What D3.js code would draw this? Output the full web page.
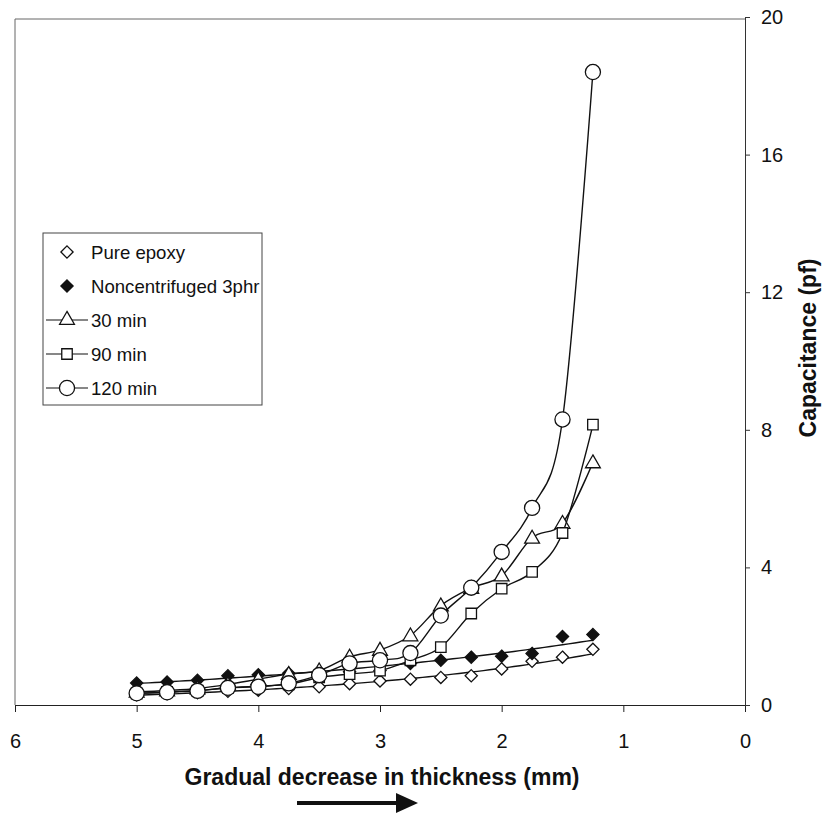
<!DOCTYPE html>
<html>
<head>
<meta charset="utf-8">
<script src="https://cdn.jsdelivr.net/npm/d3@7"></script>
<style>
body { margin: 0; background: #fff; }
text { font-family: "Liberation Sans", Arial, sans-serif; }
</style>
</head>
<body>
<div id="chart"></div>
<script>
// Thickness values (mm)
var thickness = [5, 4.75, 4.5, 4.25, 4, 3.75, 3.5, 3.25, 3, 2.75, 2.5, 2.25, 2, 1.75, 1.5, 1.25];

// Capacitance (pf) per series
var pureEpoxy = [0.3, 0.33, 0.36, 0.4, 0.43, 0.48, 0.53, 0.62, 0.7, 0.75, 0.8, 0.85, 1.05, 1.27, 1.39, 1.62];
var nonCentrifuged = [0.64, 0.67, 0.72, 0.85, 0.88, 0.92, 0.95, 0.97, 1.0, 1.21, 1.3, 1.39, 1.42, 1.5, 1.99, 2.05];
var min30 = [0.38, 0.42, 0.48, 0.6, 0.75, 0.9, 1.0, 1.4, 1.6, 2.02, 2.89, 3.4, 3.76, 4.86, 5.29, 7.05];
var min90 = [0.33, 0.38, 0.42, 0.5, 0.55, 0.6, 0.8, 0.9, 1.0, 1.3, 1.68, 2.66, 3.38, 3.87, 5.0, 8.15];
var min120 = [0.34, 0.37, 0.41, 0.5, 0.53, 0.63, 0.87, 1.21, 1.3, 1.51, 2.6, 3.41, 4.45, 5.73, 8.3, 18.4];

var xTicks = [6, 5, 4, 3, 2, 1, 0];
var yTicks = [0, 4, 8, 12, 16, 20];

var legendNames = ["Pure epoxy", "Noncentrifuged 3phr", "30 min", "90 min", "120 min"];

var w = 827, h = 814;
var plotLeft = 15, plotRight = 745, plotTop = 17, plotBottom = 705;

var svg = d3.select("#chart")
            .append("svg")
            .attr("width", w)
            .attr("height", h);

var x = d3.scaleLinear().domain([6, 0]).range([plotLeft, plotRight]);
var y = d3.scaleLinear().domain([0, 20]).range([plotBottom, plotTop]);

// frame (left and top sides, thin grey)
svg.append("path")
    .attr("d", "M" + plotLeft + "," + plotBottom + "V" + (plotTop + 2) + "H" + plotRight)
    .attr("fill", "none")
    .attr("stroke", "#666")
    .attr("stroke-width", 1);

// x axis
var xAxis = svg.append("g")
    .attr("transform", "translate(0," + plotBottom + ")")
    .call(d3.axisBottom(x).tickValues(xTicks).tickSize(7).tickSizeOuter(0).tickPadding(22).tickFormat(d3.format("d")));
xAxis.selectAll("text").attr("font-size", 20).attr("fill", "#111");
xAxis.selectAll("line, path").attr("stroke", "#222");

// y axis on the right
var yAxis = svg.append("g")
    .attr("transform", "translate(" + plotRight + ",0)")
    .call(d3.axisRight(y).tickValues(yTicks).tickSize(5).tickSizeOuter(0).tickPadding(11));
yAxis.selectAll("text").attr("font-size", 20).attr("fill", "#111");
yAxis.selectAll("line, path").attr("stroke", "#333");

// axis titles
svg.append("text")
    .attr("x", 382)
    .attr("y", 785)
    .attr("text-anchor", "middle")
    .attr("font-size", 23)
    .attr("font-weight", "bold")
    .attr("fill", "#111")
    .text("Gradual decrease in thickness (mm)");

svg.append("text")
    .attr("transform", "translate(816,348) rotate(-90)")
    .attr("text-anchor", "middle")
    .attr("font-size", 23)
    .attr("font-weight", "bold")
    .attr("fill", "#111")
    .text("Capacitance (pf)");

// arrow under the x title
svg.append("line")
    .attr("x1", 297).attr("y1", 803)
    .attr("x2", 398).attr("y2", 803)
    .attr("stroke", "#111")
    .attr("stroke-width", 4);
svg.append("path")
    .attr("d", "M396,793L418,803L396,813Z")
    .attr("fill", "#111");

// marker shapes
var symDiamond = d3.symbol().type(d3.symbolDiamond2).size(95);
var symTriangle = d3.symbol().type(d3.symbolTriangle).size(95);
var symSquare = d3.symbol().type(d3.symbolSquare).size(110);
var symCircle = d3.symbol().type(d3.symbolCircle).size(180);

function pairs(vals) {
    return thickness.map(function(t, i) { return [t, vals[i]]; });
}

// exponential trend line, fitted in log space (as the spreadsheet does for the diamond series)
function trend(vals) {
    var n = vals.length, sx = 0, sy = 0, sxx = 0, sxy = 0;
    thickness.forEach(function(t, i) {
        var ly = Math.log(vals[i]);
        sx += t; sy += ly; sxx += t * t; sxy += t * ly;
    });
    var b = (n * sxy - sx * sy) / (n * sxx - sx * sx);
    var a = (sy - b * sx) / n;
    var pts = [];
    for (var t = 5; t >= 1.25 - 1e-9; t -= 0.05) pts.push([t, Math.exp(a + b * t)]);
    return pts;
}

var straight = d3.line().x(function(d) { return x(d[0]); }).y(function(d) { return y(d[1]); });
var smooth = d3.line().curve(d3.curveCardinal.tension(0))
                .x(function(d) { return x(d[0]); }).y(function(d) { return y(d[1]); });

var series = [
    { vals: pureEpoxy, sym: symDiamond, fill: "#fff", line: "trend" },
    { vals: nonCentrifuged, sym: symDiamond, fill: "#111", line: "trend" },
    { vals: min30, sym: symTriangle, fill: "#fff", line: "smooth" },
    { vals: min90, sym: symSquare, fill: "#fff", line: "smooth" },
    { vals: min120, sym: symCircle, fill: "#fff", line: "smooth" }
];

series.forEach(function(s) {
    var g = svg.append("g");
    g.append("path")
        .attr("d", s.line == "trend" ? straight(trend(s.vals)) : smooth(pairs(s.vals)))
        .attr("fill", "none")
        .attr("stroke", "#111")
        .attr("stroke-width", 1.4);
    g.selectAll(".pt")
        .data(pairs(s.vals))
        .enter()
        .append("path")
        .attr("class", "pt")
        .attr("transform", function(d) {
            var dy = s.sym === symTriangle ? 1 : 0;
            return "translate(" + x(d[0]) + "," + (y(d[1]) + dy) + ")";
        })
        .attr("d", s.sym())
        .attr("fill", s.fill)
        .attr("stroke", "#111")
        .attr("stroke-width", 1.3);
});

// legend
var legend = svg.append("g");
legend.append("rect")
    .attr("x", 43).attr("y", 233)
    .attr("width", 219).attr("height", 172)
    .attr("fill", "#fff")
    .attr("stroke", "#444")
    .attr("stroke-width", 1);

var legendSyms = [symDiamond, symDiamond, symTriangle, symSquare, symCircle];
var legendFill = ["#fff", "#111", "#fff", "#fff", "#fff"];

legendNames.forEach(function(name, i) {
    var ly = 252 + i * 34;
    if (i >= 2) {
        legend.append("line")
            .attr("x1", 46).attr("x2", 88)
            .attr("y1", ly).attr("y2", ly)
            .attr("stroke", "#111")
            .attr("stroke-width", 1.2);
    }
    legend.append("path")
        .attr("transform", "translate(67," + ly + ")")
        .attr("d", legendSyms[i]())
        .attr("fill", legendFill[i])
        .attr("stroke", "#111")
        .attr("stroke-width", 1.3);
    legend.append("text")
        .attr("x", 91)
        .attr("y", ly)
        .attr("dy", "0.35em")
        .attr("font-size", 18.6)
        .attr("fill", "#111")
        .text(name);
});
</script>
</body>
</html>
